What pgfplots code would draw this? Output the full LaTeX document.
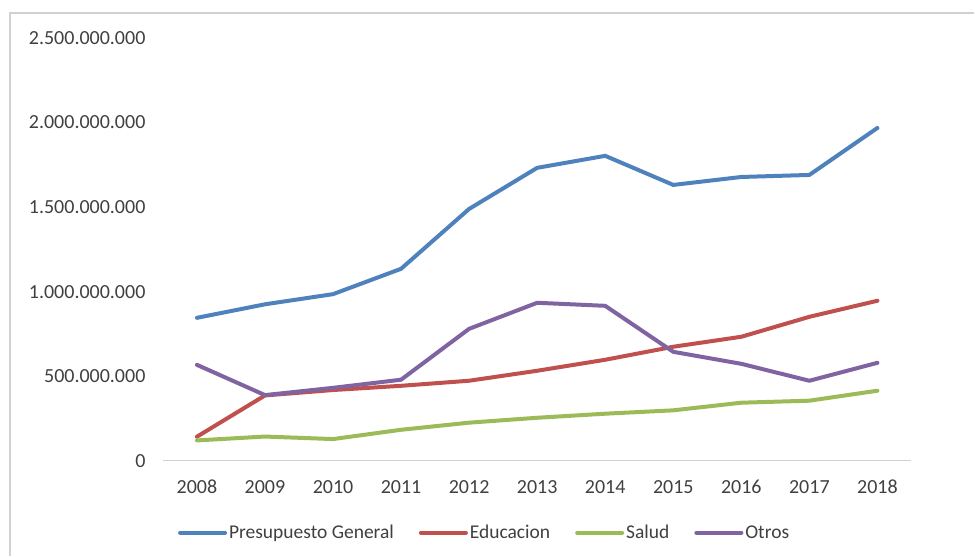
\documentclass[border=0pt]{standalone}
\usepackage{pgfplots}
\pgfplotsset{compat=1.18}
\usepackage{fontspec}
\setmainfont{Carlito}
\definecolor{serBlue}{HTML}{4F81BD}
\definecolor{serRed}{HTML}{C0504D}
\definecolor{serGreen}{HTML}{9BBB59}
\definecolor{serPurple}{HTML}{8064A2}
\definecolor{txt}{HTML}{404040}
\begin{document}
\begin{tikzpicture}
% page frame and bounding box (pixel units of the reference)
\path (-163bp,-95bp) rectangle (812bp,461bp);
\draw[black!18, line width=1.2bp] (-153bp,-95bp) -- (-153bp,448bp) -- (812bp,448bp);
\begin{axis}[
    at={(0,0)}, anchor=south west,
    scale only axis,
    width=749bp, height=423bp,
    xmin=-0.5, xmax=10.5,
    ymin=0, ymax=2500000000,
    xtick={0,...,10},
    xticklabels={2008,2009,2010,2011,2012,2013,2014,2015,2016,2017,2018},
    ytick={0,500000000,1000000000,1500000000,2000000000,2500000000},
    scaled y ticks=false,
    yticklabel style={/pgf/number format/fixed, /pgf/number format/precision=0,
        /pgf/number format/1000 sep={.}, /pgf/number format/assume math mode=true,
        xshift=-14bp},
    axis line style={draw=none},
    major tick length=0pt,
    tick label style={font=\fontsize{20bp}{24bp}\selectfont, text=txt},
    xticklabel style={yshift=-16bp},
    legend columns=4,
    legend style={draw=none, at={(15bp,-72bp)}, anchor=west,
        font=\fontsize{19.5bp}{24bp}\selectfont, text=txt,
        inner sep=0pt,
        /tikz/every even column/.append style={column sep=23bp}},
    legend cell align=left,
    legend image code/.code={\draw[#1, line width=4bp, line cap=round] (0bp,0bp) -- (45bp,0bp);},
    every axis plot/.append style={line width=4bp, line join=round, line cap=round},
]
\draw[black!18, line width=1.2bp] (axis cs:-0.5,0) -- (axis cs:10.5,0);
\addplot[serBlue] coordinates {
    (0,845000000) (1,925000000) (2,985000000) (3,1135000000) (4,1489000000)
    (5,1732000000) (6,1803000000) (7,1631000000) (8,1678000000) (9,1690000000) (10,1968000000)
};
\addplot[serRed] coordinates {
    (0,142000000) (1,386000000) (2,418000000) (3,443000000) (4,473000000)
    (5,532000000) (6,597000000) (7,674000000) (8,733000000) (9,851000000) (10,946000000)
};
\addplot[serGreen] coordinates {
    (0,120000000) (1,143000000) (2,128000000) (3,183000000) (4,225000000)
    (5,254000000) (6,278000000) (7,298000000) (8,343000000) (9,355000000) (10,414000000)
};
\addplot[serPurple] coordinates {
    (0,567000000) (1,388000000) (2,431000000) (3,479000000) (4,780000000)
    (5,934000000) (6,916000000) (7,644000000) (8,573000000) (9,473000000) (10,579000000)
};
\legend{Presupuesto General, Educacion, Salud, Otros}
\end{axis}
\end{tikzpicture}
\end{document}
